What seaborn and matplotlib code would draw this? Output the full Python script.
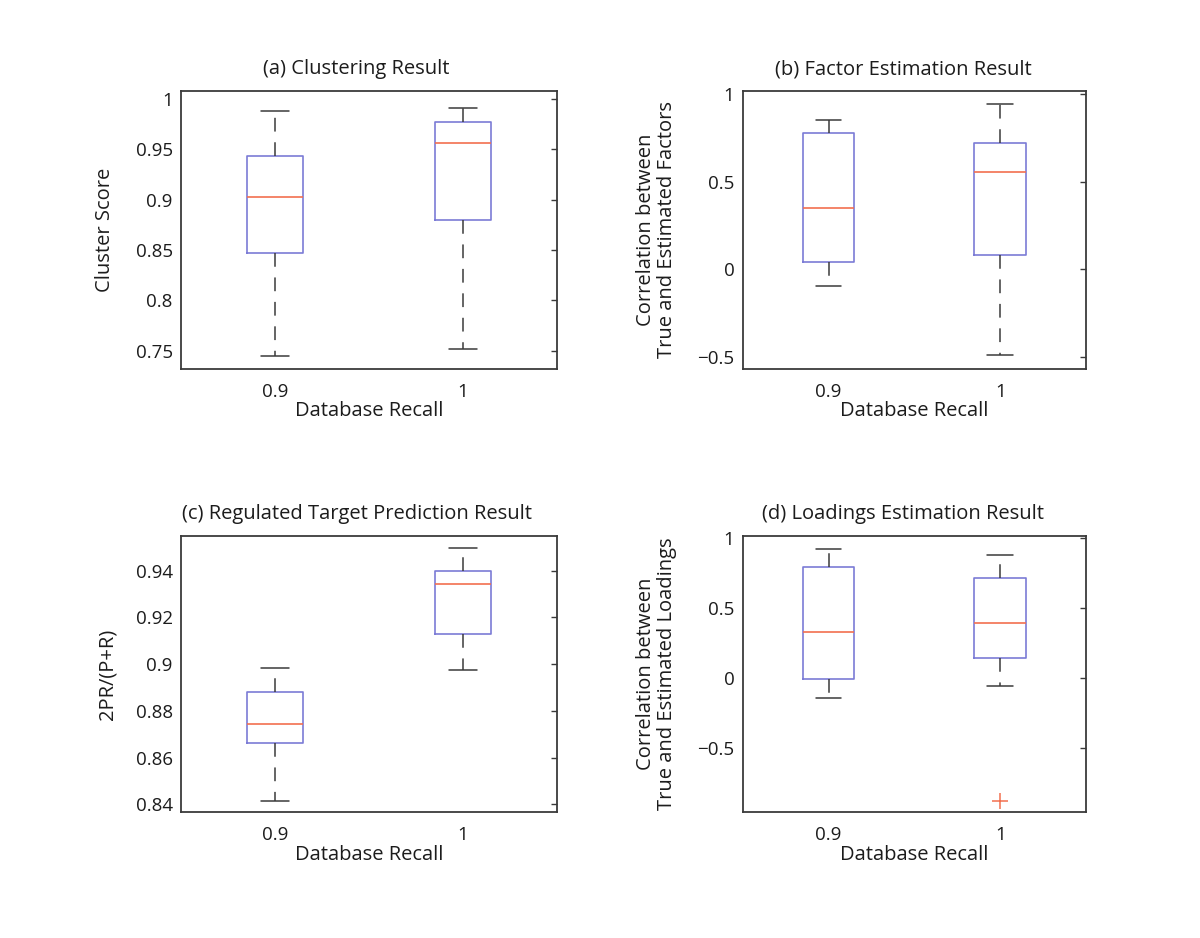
import pandas as pd
import seaborn as sns
import matplotlib.pyplot as plt

sns.set_style('white')
plt.rcParams['font.family'] = ['Open Sans', 'DejaVu Sans']

# database recall levels (x axis)
recall = ['0.9', '1']

# (a) clustering result - cluster score
clus_09 = [0.745, 0.847, 0.903, 0.943, 0.988]
clus_10 = [0.752, 0.880, 0.956, 0.977, 0.991]

# (b) factor estimation - correlation true vs estimated factors
fact_09 = [-0.097, 0.041, 0.350, 0.777, 0.851]
fact_10 = [-0.493, 0.079, 0.556, 0.724, 0.945]

# (c) regulated target prediction - 2PR/(P+R)
pred_09 = [0.8414, 0.8661, 0.8742, 0.8879, 0.8985]
pred_10 = [0.8975, 0.9129, 0.9343, 0.9399, 0.9499]

# (d) loadings estimation - correlation true vs estimated loadings (one outlier)
load_09 = [-0.146, -0.008, 0.331, 0.792, 0.925]
load_10 = [-0.882, -0.056, 0.140, 0.250, 0.391, 0.550, 0.718, 0.800, 0.880]

# tick labels
ticks_a = [0.75, 0.8, 0.85, 0.9, 0.95, 1]
labels_a = ['0.75', '0.8', '0.85', '0.9', '0.95', '1']
ticks_b = [-0.5, 0, 0.5, 1]
labels_b = ['\u22120.5', '0', '0.5', '1']
ticks_c = [0.84, 0.86, 0.88, 0.9, 0.92, 0.94]
labels_c = ['0.84', '0.86', '0.88', '0.9', '0.92', '0.94']


def make_df(v09, v10):
    return pd.DataFrame({'recall': [recall[0]] * len(v09) + [recall[1]] * len(v10),
                         'value': v09 + v10})


BLUE = '#7b7bd6'
RED = '#f2704f'
DARK = '#3a3a3a'
TXT = '#1c1c1c'
FS = 14.5

panels = [
    ('(a) Clustering Result', 'Cluster Score', make_df(clus_09, clus_10),
     (0.732, 1.008), ticks_a, labels_a, [0.151, 0.607, 0.313, 0.296], -0.176),
    ('(b) Factor Estimation Result', 'Correlation between\nTrue and Estimated Factors',
     make_df(fact_09, fact_10), (-0.569, 1.019), ticks_b, labels_b,
     [0.619, 0.607, 0.286, 0.296], -0.193),
    ('(c) Regulated Target Prediction Result', '2PR/(P+R)', make_df(pred_09, pred_10),
     (0.8366, 0.955), ticks_c, labels_c, [0.151, 0.134, 0.313, 0.295], -0.169),
    ('(d) Loadings Estimation Result', 'Correlation between\nTrue and Estimated Loadings',
     make_df(load_09, load_10), (-0.963, 1.019), ticks_b, labels_b,
     [0.619, 0.134, 0.286, 0.295], -0.192),
]

fig = plt.figure(figsize=(12, 9.38), dpi=100)

for title, ylabel, df, ylim, yt, ytl, rect, ylx in panels:
    ax = fig.add_axes(rect)
    sns.boxplot(data=df, x='recall', y='value', order=recall, ax=ax,
                width=0.3, fill=False, whis=1.5,
                boxprops=dict(color=BLUE, linewidth=1.2),
                medianprops=dict(color=RED, linewidth=1.2),
                whiskerprops=dict(color=DARK, linewidth=1.1, linestyle=(0, (9, 7))),
                capprops=dict(color=DARK, linewidth=1.1),
                flierprops=dict(marker='+', markeredgecolor=RED, markersize=11,
                                markeredgewidth=1.1))
    ax.set_xlim(-0.5, 1.5)
    ax.set_ylim(*ylim)
    ax.set_yticks(yt)
    ax.set_yticklabels(ytl)
    ax.tick_params(axis='y', direction='in', right=True, length=4, width=1,
                   color=DARK, labelsize=13.5, pad=6, labelcolor=TXT)
    ax.tick_params(axis='x', length=0, labelsize=13.5, pad=10, labelcolor=TXT)
    for s in ax.spines.values():
        s.set_color(DARK)
        s.set_linewidth(1.3)
    ax.set_title(title, fontsize=FS, pad=12, x=0.467, color=TXT)
    ax.set_xlabel('Database Recall', fontsize=FS, color=TXT)
    ax.xaxis.set_label_coords(0.5, -0.118)
    ax.set_ylabel(ylabel, fontsize=FS, linespacing=1.05, color=TXT)
    ax.yaxis.set_label_coords(ylx, 0.5)

fig.savefig('out.png', dpi=100)
